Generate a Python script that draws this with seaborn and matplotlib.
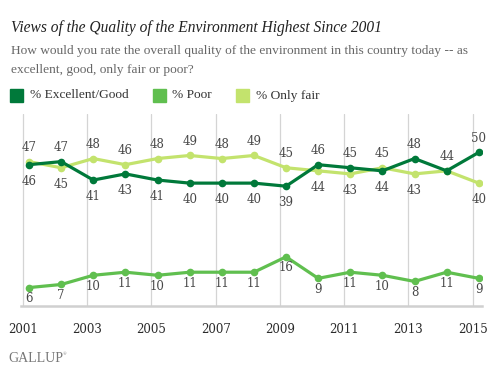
import pandas as pd
import seaborn as sns
import matplotlib.pyplot as plt
from matplotlib.patches import Rectangle

years = list(range(2001, 2016))
excellent_good = [46, 47, 41, 43, 41, 40, 40, 40, 39, 46, 45, 44, 48, 44, 50]
poor = [6, 7, 10, 11, 10, 11, 11, 11, 16, 9, 11, 10, 8, 11, 9]
only_fair = [47, 45, 48, 46, 48, 49, 48, 49, 45, 44, 43, 45, 43, 44, 40]
series_names = ["% Excellent/Good", "% Poor", "% Only fair"]

colors = {"% Excellent/Good": "#00793a", "% Poor": "#60bf4f", "% Only fair": "#c3e36d"}
text_col = "#484848"

df = pd.DataFrame({
    "year": years * 3,
    "value": excellent_good + poor + only_fair,
    "series": [series_names[0]] * 15 + [series_names[1]] * 15 + [series_names[2]] * 15,
})

sns.set_style("white")
plt.rcParams["font.family"] = ["DejaVu Serif"]
head_font = ["Liberation Serif", "DejaVu Serif"]

W, H = 499, 386
fig = plt.figure(figsize=(W / 100, H / 100), dpi=100)
ax = fig.add_axes([21 / W, 80 / H, 461 / W, 192 / H])

# vertical gridlines sit slightly left of the data points, like the original
for y in years[::2]:
    ax.axvline(y - 0.19, color="#d4d4d4", lw=0.9, zorder=0)

for name in ["% Only fair", "% Poor", "% Excellent/Good"]:
    sub = df[df["series"] == name]
    sns.lineplot(data=sub, x="year", y="value", color=colors[name], lw=2.3,
                 marker="o", markersize=5.5, markeredgewidth=0, ax=ax, legend=False)

# data labels: higher of the two top series above, lower below; one label if equal
for i, y in enumerate(years):
    e, f, p = excellent_good[i], only_fair[i], poor[i]
    e_up = e >= f
    ax.annotate(str(e), (y, e), xytext=(0, 10 if e_up else -12), textcoords="offset points",
                ha="center", va="center", fontsize=8.5, color=text_col)
    if f != e:
        ax.annotate(str(f), (y, f), xytext=(0, 10 if not e_up else -12),
                    textcoords="offset points", ha="center", va="center", fontsize=8.5,
                    color=text_col)
    ax.annotate(str(p), (y, p), xytext=(0, -8), textcoords="offset points",
                ha="center", va="center", fontsize=8.5, color=text_col)

ax.set_xlim(2000.75, 2015.1)
ax.set_ylim(0, 62.5)
ax.set_xticks([y - 0.19 for y in years[::2]])
ax.set_xticklabels([str(y) for y in years[::2]], fontsize=8.5, color="#2a2a2a")
ax.tick_params(axis="x", length=0, pad=12)
ax.set_yticks([])
ax.set_xlabel("")
ax.set_ylabel("")
for s in ["top", "left", "right"]:
    ax.spines[s].set_visible(False)
ax.spines["bottom"].set_color("#d0d0d0")
ax.spines["bottom"].set_linewidth(1.8)

fig.text(11 / W, 1 - 28 / H, "Views of the Quality of the Environment Highest Since 2001",
         fontsize=11.2, style="italic", color="#222222", va="center", family=head_font)
fig.text(11 / W, 1 - 51 / H,
         "How would you rate the overall quality of the environment in this country today -- as",
         fontsize=9.6, color="#666666", va="center", family=head_font)
fig.text(11 / W, 1 - 70 / H, "excellent, good, only fair or poor?",
         fontsize=9.6, color="#666666", va="center", family=head_font)

# legend drawn by hand: square + label
legend_x = [(10, 30), (153, 172), (236, 256)]
for name, (sx, tx) in zip(series_names, legend_x):
    fig.patches.append(Rectangle((sx / W, 1 - 102 / H), 13 / W, 13 / H,
                                 transform=fig.transFigure, color=colors[name]))
    fig.text(tx / W, 1 - 95.5 / H, name, fontsize=9.6, color="#333333", va="center",
             family=head_font)

fig.text(8 / W, 1 - 358 / H, "GALLUP", fontsize=10, color="#777777", va="center",
         family=head_font)
fig.text(63 / W, 1 - 354 / H, "\u00ae", fontsize=3.5, color="#777777", va="center",
         family=head_font)

plt.savefig("out.png", dpi=100)
